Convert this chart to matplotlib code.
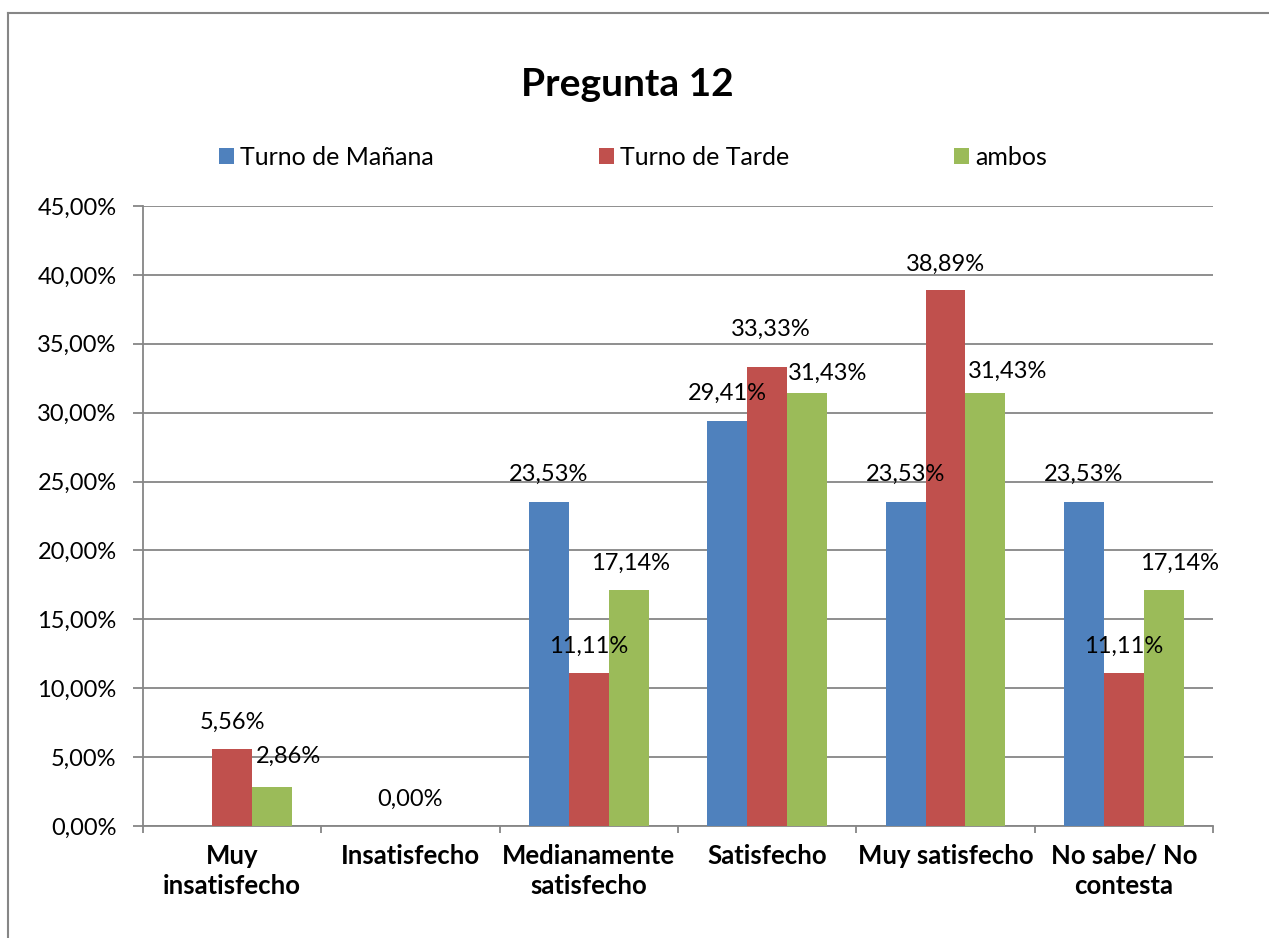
import matplotlib
matplotlib.use("Agg")
import matplotlib.pyplot as plt
from matplotlib.lines import Line2D
import numpy as np

plt.rcParams['font.family'] = ['Lato', 'DejaVu Sans']

categorias = ["Muy\ninsatisfecho", "Insatisfecho", "Medianamente\nsatisfecho",
              "Satisfecho", "Muy satisfecho", "No sabe/ No\ncontesta"]
series = ["Turno de Mañana", "Turno de Tarde", "ambos"]
manana = [0, 0, 23.53, 29.41, 23.53, 23.53]
tarde = [5.56, 0, 11.11, 33.33, 38.89, 11.11]
ambos = [2.86, 0, 17.14, 31.43, 31.43, 17.14]
# which bars carry a data label
con_etiqueta = [
    [False, False, True, True, True, True],
    [True, True, True, True, True, True],
    [True, False, True, True, True, True],
]
colores = ["#4F81BD", "#C0504D", "#9BBB59"]

# label nudges in pixels (dx, dy) where Excel moved them
ajustes = {(2, 0): (16, 30), (1, 3): (4, 37), (2, 3): (20, 20),
           (1, 4): (0, 26), (2, 4): (22, 22), (2, 5): (16, 27), (2, 2): (2, 27)}

fig = plt.figure(figsize=(12.69, 9.38), dpi=100)
ax = fig.add_axes([143/1269, 1-826/938, (1213-143)/1269, (826-206)/938])

# chart border (only top and left visible)
fig.add_artist(Line2D([8/1269, 8/1269], [0, 1-13/938], color="#868686", lw=1.5))
fig.add_artist(Line2D([8/1269, 1], [1-13/938, 1-13/938], color="#868686", lw=1.5))

x = np.arange(len(categorias))
w = 0.224
valores = [manana, tarde, ambos]
barras = []
for i, (vals, col, nom) in enumerate(zip(valores, colores, series)):
    b = ax.bar(x + (i-1)*w, vals, w, color=col, label=nom, zorder=3)
    barras.append(b)
    for j, v in enumerate(vals):
        if not con_etiqueta[i][j]:
            continue
        dx, dy = ajustes.get((i, j), (0, 27))
        ax.annotate(f"{v:.2f}%".replace(".", ","), (x[j] + (i-1)*w, v),
                    xytext=(dx, dy), textcoords="offset pixels",
                    ha="center", va="center", fontsize=17, zorder=5)

ax.set_xlim(-0.5, len(categorias)-0.5)
ax.set_ylim(0, 45)
ax.set_yticks(np.arange(0, 46, 5))
ax.set_yticklabels([f"{t:.2f}%".replace(".", ",") for t in np.arange(0, 46, 5)], fontsize=17)
ax.set_xticks(x)
ax.set_xticklabels(categorias, fontsize=18.5, fontweight="bold", linespacing=1.3)
ax.set_xticks(np.arange(-0.5, len(categorias), 1), minor=True)
ax.tick_params(axis="x", which="major", length=0, pad=13)
ax.tick_params(axis="x", which="minor", length=5, width=1.3, color="#868686")
ax.tick_params(axis="y", length=7, width=1.3, color="#868686", pad=12)
ax.yaxis.grid(True, color="#868686", lw=1.3, zorder=0)
for s in ["top", "right"]:
    ax.spines[s].set_visible(False)
for s in ["left", "bottom"]:
    ax.spines[s].set_color("#868686")
    ax.spines[s].set_linewidth(1.3)
ax.set_axisbelow(True)

fig.text(627/1269, 1-84/938, "Pregunta 12", ha="center", va="center",
         fontsize=28, fontweight="bold")
fig.legend(handles=barras, labels=series, loc="center", ncol=3,
           bbox_to_anchor=(633/1269, 1-157/938), frameon=False, fontsize=18,
           handlelength=0.6, handleheight=0.6, handletextpad=0.25, columnspacing=6.6)

fig.savefig("out.png", dpi=100)
